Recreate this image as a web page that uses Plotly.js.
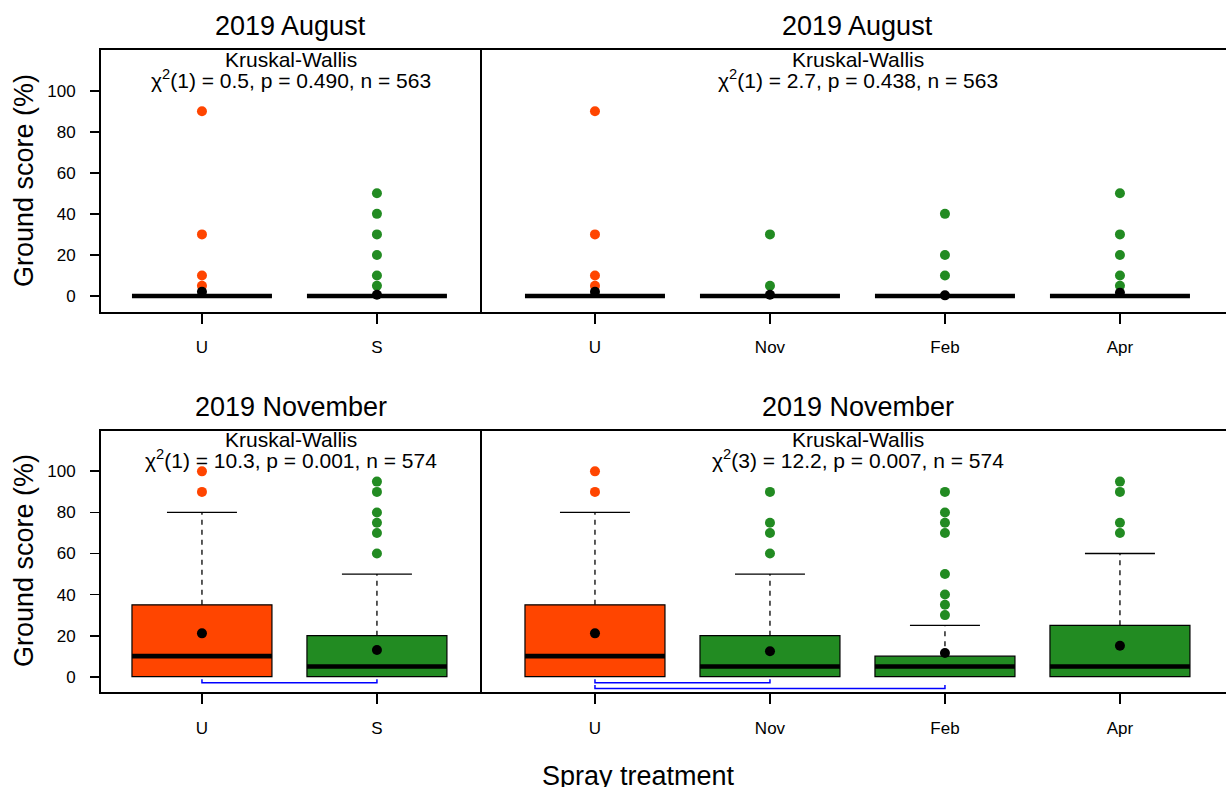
<!DOCTYPE html>
<html><head><meta charset="utf-8">
<script src="https://cdn.plot.ly/plotly-3.0.1.min.js"></script>
<style>html,body{margin:0;padding:0;background:#fff;overflow:hidden}</style>
</head><body><div id="chart" style="width:1226px;height:787px"></div>
<script>
// ---------------- data ----------------
const catsTwo = ['U', 'S'];
const catsFour = ['U', 'Nov', 'Feb', 'Apr'];
const panelTitles = ['2019 August', '2019 August', '2019 November', '2019 November'];
const kwLabel = 'Kruskal-Wallis';
const kwStats = [
  'χ<sup>2</sup>(1) = 0.5, p = 0.490, n = 563',
  'χ<sup>2</sup>(1) = 2.7, p = 0.438, n = 563',
  'χ<sup>2</sup>(1) = 10.3, p = 0.001, n = 574',
  'χ<sup>2</sup>(3) = 12.2, p = 0.007, n = 574'
];
const yTitle = 'Ground score (%)';
const xTitle = 'Spray treatment';
const yTicks = [0, 20, 40, 60, 80, 100];

// August, U vs S
const augTwoQ1 = [0, 0];
const augTwoMedian = [0, 0];
const augTwoQ3 = [0, 0];
const augTwoUpper = [0, 0];
const augTwoOutliers = [[90, 30, 10, 5], [50, 40, 30, 20, 10, 5]];
const augTwoMeans = [2.1, 0.6];
const augTwoPairs = [];

// August, U / Nov / Feb / Apr
const augFourQ1 = [0, 0, 0, 0];
const augFourMedian = [0, 0, 0, 0];
const augFourQ3 = [0, 0, 0, 0];
const augFourUpper = [0, 0, 0, 0];
const augFourOutliers = [[90, 30, 10, 5], [30, 5], [40, 20, 10], [50, 30, 20, 10, 5]];
const augFourMeans = [2.1, 0.6, 0.3, 1.6];
const augFourPairs = [];

// November, U vs S
const novTwoQ1 = [0, 0];
const novTwoMedian = [10, 5];
const novTwoQ3 = [35, 20];
const novTwoUpper = [80, 50];
const novTwoOutliers = [[100, 90], [95, 90, 80, 75, 70, 60]];
const novTwoMeans = [21.1, 13.0];
const novTwoPairs = [['U', 'S']];

// November, U / Nov / Feb / Apr
const novFourQ1 = [0, 0, 0, 0];
const novFourMedian = [10, 5, 5, 5];
const novFourQ3 = [35, 20, 10, 25];
const novFourUpper = [80, 50, 25, 60];
const novFourOutliers = [[100, 90], [90, 75, 70, 60], [90, 80, 75, 70, 50, 40, 35, 30], [95, 90, 75, 70]];
const novFourMeans = [21.1, 12.4, 11.5, 15.1];
const novFourPairs = [['U', 'Nov'], ['U', 'Feb']];

// ---------------- drawing ----------------
const W = 1226, H = 787;
const px = x => x / W, py = y => 1 - y / H;
const FONT = 'Liberation Sans, Arial, sans-serif';
const colU = 'rgb(255,69,0)', colT = 'rgb(34,139,34)';
const groupColor = c => (c === 'U' ? colU : colT);

const panels = [
  {cats: catsTwo, q1: augTwoQ1, med: augTwoMedian, q3: augTwoQ3, up: augTwoUpper, out: augTwoOutliers, mean: augTwoMeans, pairs: augTwoPairs, xa: 'x', ya: 'y'},
  {cats: catsFour, q1: augFourQ1, med: augFourMedian, q3: augFourQ3, up: augFourUpper, out: augFourOutliers, mean: augFourMeans, pairs: augFourPairs, xa: 'x2', ya: 'y2'},
  {cats: catsTwo, q1: novTwoQ1, med: novTwoMedian, q3: novTwoQ3, up: novTwoUpper, out: novTwoOutliers, mean: novTwoMeans, pairs: novTwoPairs, xa: 'x3', ya: 'y3'},
  {cats: catsFour, q1: novFourQ1, med: novFourMedian, q3: novFourQ3, up: novFourUpper, out: novFourOutliers, mean: novFourMeans, pairs: novFourPairs, xa: 'x4', ya: 'y4'}
];

const traces = [];
const boxHalf = 0.4, stapleHalf = 0.2;
panels.forEach(p => {
  p.cats.forEach((c, i) => {
    const xpos = i + 1;
    const base = {xaxis: p.xa, yaxis: p.ya, hoverinfo: 'skip', showlegend: false};
    // box body
    traces.push(Object.assign({}, base, {
      type: 'box', x: [xpos], q1: [p.q1[i]], median: [p.med[i]], q3: [p.q3[i]],
      lowerfence: [p.q1[i]], upperfence: [p.q3[i]], width: 2 * boxHalf,
      fillcolor: groupColor(c), line: {color: 'black', width: 1.2}, whiskerwidth: 0, boxpoints: false
    }));
    // whisker (dashed) and staple
    if (p.up[i] > p.q3[i]) {
      traces.push(Object.assign({}, base, {
        type: 'scatter', mode: 'lines', x: [xpos, xpos], y: [p.q3[i], p.up[i]],
        line: {color: 'black', width: 1.3, dash: '5px,5px'}
      }));
      traces.push(Object.assign({}, base, {
        type: 'scatter', mode: 'lines', x: [xpos - stapleHalf, xpos + stapleHalf], y: [p.up[i], p.up[i]],
        line: {color: 'black', width: 1.3}
      }));
    }
    // median
    traces.push(Object.assign({}, base, {
      type: 'scatter', mode: 'lines', x: [xpos - boxHalf, xpos + boxHalf], y: [p.med[i], p.med[i]],
      line: {color: 'black', width: 4.6}
    }));
    // outliers
    traces.push(Object.assign({}, base, {
      type: 'scatter', mode: 'markers', x: p.out[i].map(() => xpos), y: p.out[i],
      marker: {color: groupColor(c), size: 10, line: {width: 0}}
    }));
    // mean
    traces.push(Object.assign({}, base, {
      type: 'scatter', mode: 'markers', x: [xpos], y: [p.mean[i]],
      marker: {color: 'black', size: 10, line: {width: 0}}
    }));
  });
  // significance brackets
  p.pairs.forEach((pr, k) => {
    const a = p.cats.indexOf(pr[0]) + 1, b = p.cats.indexOf(pr[1]) + 1;
    const lvl = -3 - 2.8 * k, tick = 1.7;
    traces.push({
      type: 'scatter', mode: 'lines', xaxis: p.xa, yaxis: p.ya, hoverinfo: 'skip', showlegend: false,
      x: [a, a, b, b], y: [lvl + tick, lvl, lvl, lvl + tick],
      line: {color: 'rgb(0,0,255)', width: 1.5}
    });
  });
});

const tickFont = {family: FONT, size: 17, color: 'black'};
const xBase = {
  showgrid: false, zeroline: false, showline: true, linecolor: 'black', linewidth: 2, mirror: true,
  ticks: 'outside', ticklen: 10, tickwidth: 1.8, tickcolor: 'black', tickfont: tickFont,
  ticklabelstandoff: 9, fixedrange: true
};
const yBase = {
  showgrid: false, zeroline: false, linecolor: 'black', linewidth: 2,
  fixedrange: true
};
const xLeftDom = [px(101), px(480)], xRightDom = [px(480), 1];
const xLeftRange = [0.423, 2.589], xRightRange = [0.343, 4.606];
const yTopDom = [py(312), py(50)], yBotDom = [py(692.3), py(430.7)];
const yTopRange = [-7.8, 119.8], yBotRange = [-7.6, 119.8];

const yLeft = Object.assign({}, yBase, {
  showline: true, mirror: true, ticks: 'outside', ticklen: 9, tickwidth: 1.8, tickcolor: 'black',
  tickvals: yTicks, ticktext: yTicks.map(String), tickfont: tickFont, ticklabelstandoff: 11
});
const yRight = Object.assign({}, yBase, {showline: false, mirror: false, ticks: '', showticklabels: false});

const annotations = [];
const titleY = [26, 26, 407, 407];
const kw1Y = [59, 59, 439, 439];
const kw2Y = [79, 79, 459, 459];
const centerX = [290.5, 857.5, 290.5, 857.5];
panels.forEach((p, k) => {
  annotations.push({xref: 'paper', yref: 'paper', x: px(centerX[k]), y: py(titleY[k]), xanchor: 'center', yanchor: 'middle',
    text: panelTitles[k], showarrow: false, font: {family: FONT, size: 27, color: 'black'}});
  annotations.push({xref: 'paper', yref: 'paper', x: px(centerX[k]), y: py(kw1Y[k]), xanchor: 'center', yanchor: 'middle',
    text: kwLabel, showarrow: false, font: {family: FONT, size: 21, color: 'black'}});
  annotations.push({xref: 'paper', yref: 'paper', x: px(centerX[k]), y: py(kw2Y[k]), xanchor: 'center', yanchor: 'middle',
    text: kwStats[k], showarrow: false, font: {family: FONT, size: 21, color: 'black'}});
});
[181, 561].forEach(yc => {
  annotations.push({xref: 'paper', yref: 'paper', x: px(24), y: py(yc), xanchor: 'center', yanchor: 'middle',
    text: yTitle, textangle: -90, showarrow: false, font: {family: FONT, size: 27, color: 'black'}});
});
annotations.push({xref: 'paper', yref: 'paper', x: px(638), y: py(776), xanchor: 'center', yanchor: 'middle',
  text: xTitle, showarrow: false, font: {family: FONT, size: 27, color: 'black'}});

const layout = {
  width: W, height: H, margin: {l: 0, r: 0, t: 0, b: 0, pad: 0},
  paper_bgcolor: 'white', plot_bgcolor: 'rgba(0,0,0,0)', showlegend: false,
  font: {family: FONT, color: 'black'},
  boxmode: 'overlay',
  xaxis: Object.assign({}, xBase, {domain: xLeftDom, range: xLeftRange, tickvals: [1, 2], ticktext: catsTwo, anchor: 'y'}),
  xaxis2: Object.assign({}, xBase, {domain: xRightDom, range: xRightRange, tickvals: [1, 2, 3, 4], ticktext: catsFour, anchor: 'y2'}),
  xaxis3: Object.assign({}, xBase, {domain: xLeftDom, range: xLeftRange, tickvals: [1, 2], ticktext: catsTwo, anchor: 'y3'}),
  xaxis4: Object.assign({}, xBase, {domain: xRightDom, range: xRightRange, tickvals: [1, 2, 3, 4], ticktext: catsFour, anchor: 'y4'}),
  yaxis: Object.assign({}, yLeft, {domain: yTopDom, range: yTopRange, anchor: 'x'}),
  yaxis2: Object.assign({}, yRight, {domain: yTopDom, range: yTopRange, anchor: 'x2'}),
  yaxis3: Object.assign({}, yLeft, {domain: yBotDom, range: yBotRange, anchor: 'x3'}),
  yaxis4: Object.assign({}, yRight, {domain: yBotDom, range: yBotRange, anchor: 'x4'}),
  annotations: annotations
};

Plotly.newPlot('chart', traces, layout, {staticPlot: true, displayModeBar: false});
</script>
</body></html>
